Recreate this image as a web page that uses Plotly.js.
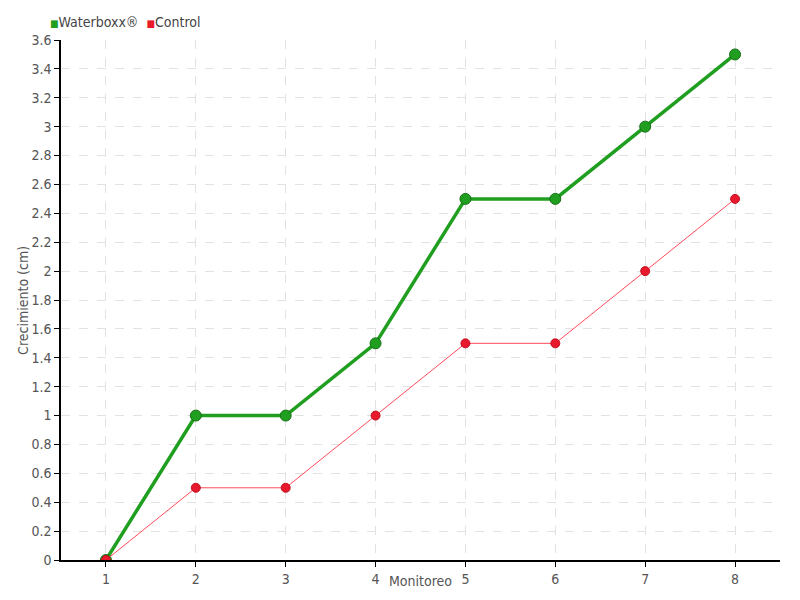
<!DOCTYPE html>
<html><head><meta charset="utf-8">
<script src="https://cdn.plot.ly/plotly-3.0.1.min.js"></script>
<style>body{margin:0;padding:0;}#chart{width:800px;height:600px;}</style>
</head><body><div id="chart"></div>
<script>
const monitoreo = [1, 2, 3, 4, 5, 6, 7, 8];
const waterboxx = [0, 1, 1, 1.5, 2.5, 2.5, 3, 3.5];
const control = [0, 0.5, 0.5, 1, 1.5, 1.5, 2, 2.5];
const seriesNames = ["Waterboxx®", "Control"];
const seriesColors = ['#1f9e1f', '#e8192c'];
const xTitle = 'Monitoreo';
const yTitle = 'Crecimiento (cm)';

const FONT = "'DejaVu Sans Condensed', 'Liberation Sans Narrow', sans-serif";
const traces = [
  {x: monitoreo, y: waterboxx, mode: 'lines+markers', name: seriesNames[0],
   line: {color: seriesColors[0], width: 3.5}, marker: {color: seriesColors[0], size: 11, line: {color: '#186f18', width: 1}}},
  {x: monitoreo, y: control, mode: 'lines+markers', name: seriesNames[1],
   line: {color: '#ff4a5a', width: 1}, marker: {color: seriesColors[1], size: 9, line: {color: '#c01020', width: 1}}}
];
const layout = {
  width: 800, height: 600,
  margin: {l: 61, r: 20, t: 40, b: 40, autoexpand: false},
  paper_bgcolor: '#fff', plot_bgcolor: '#fff',
  font: {family: FONT, size: 14, color: '#555'},
  showlegend: false,
  annotations: [
    {xref: 'paper', yref: 'paper', x: -0.018, y: 1.035, xanchor: 'left', yanchor: 'middle', showarrow: false,
     font: {family: FONT, size: 14, color: '#444'},
     text: '<span style="color:' + seriesColors[0] + ';font-size:10px">■</span>' + seriesNames[0] +
           '  <span style="color:' + seriesColors[1] + ';font-size:10px">■</span>' + seriesNames[1]},
    {xref: 'paper', yref: 'paper', x: 0.5, y: -0.04, xanchor: 'center', yanchor: 'middle', showarrow: false,
     font: {family: FONT, size: 14, color: '#555'}, text: xTitle},
    {xref: 'paper', yref: 'paper', x: -0.053, y: 0.5, xanchor: 'center', yanchor: 'middle', showarrow: false,
     textangle: -90, font: {family: FONT, size: 14, color: '#555'}, text: yTitle}
  ],
  xaxis: {range: [0.5, 8.5], tickvals: monitoreo, ticktext: monitoreo.map(String), automargin: false,
    showline: true, linecolor: '#000', linewidth: 1.5, ticks: 'outside', ticklen: 5, tickcolor: '#000',
    showgrid: true, gridcolor: '#e2e2e2', griddash: 'dash', zeroline: false},
  yaxis: {range: [0, 3.6], dtick: 0.2, tick0: 0, automargin: false,
    showline: true, linecolor: '#000', linewidth: 1.5, ticks: 'outside', ticklen: 5, tickcolor: '#000',
    showgrid: true, gridcolor: '#e2e2e2', griddash: 'dash', zeroline: false}
};
Plotly.newPlot('chart', traces, layout, {displayModeBar: false});
</script></body></html>
